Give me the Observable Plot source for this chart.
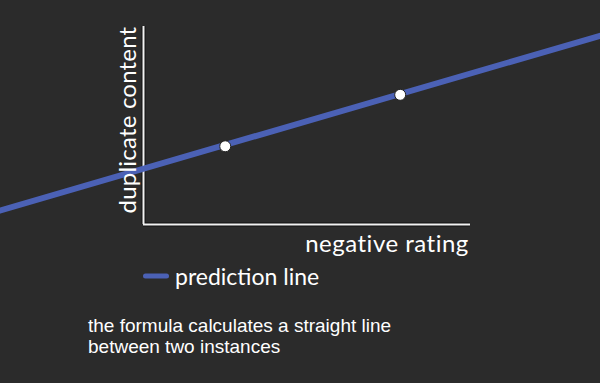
<!DOCTYPE html>
<html><head><meta charset="utf-8">
<script src="https://cdn.jsdelivr.net/npm/d3@7"></script>
<script src="https://cdn.jsdelivr.net/npm/@observablehq/plot@0.6"></script>
<style>
html,body{margin:0;padding:0;background:#2b2b2b;}
#wrap{position:relative;width:600px;height:383px;overflow:hidden;background:#2b2b2b;}
#wrap svg{position:absolute;left:0;top:0;}
.hand{position:absolute;color:#fff;font-family:Lato,"Open Sans",sans-serif;font-size:24px;white-space:nowrap;line-height:1;letter-spacing:0.5px;}
#ylab{left:127px;top:120px;transform:translate(-50%,-50%) rotate(-90deg);letter-spacing:0.2px;}
#xlab{left:387px;top:243px;transform:translate(-50%,-50%);}
#leg{left:143px;top:276px;transform:translateY(-50%);display:flex;align-items:center;font-size:23px;letter-spacing:0;}
#leg .sw{display:inline-block;width:26px;height:5px;border-radius:3px;background:#4b61b5;margin-right:6px;}
#cap{position:absolute;left:88px;top:315px;color:#fff;font-family:"Liberation Sans",Arial,sans-serif;font-size:19px;line-height:21px;}
</style></head>
<body>
<div id="wrap"></div>
<script>
// data
const pointRating = [2.5, 7.85];
const pointDuplicate = [3.95, 6.55];
const lineRating = [-4.4, 14.0];
const lineDuplicate = [0.7, 9.55];
const xLabel = "negative rating";
const yLabel = "duplicate content";
const legendLabel = "prediction line";
const captionLines = ["the formula calculates a straight line", "between two instances"];
const blue = "#4b61b5";

const pts = pointRating.map((x, i) => ({x, y: pointDuplicate[i]}));
const ln = lineRating.map((x, i) => ({x, y: lineDuplicate[i]}));

const chart = Plot.plot({
  width: 600, height: 383,
  marginLeft: 143, marginRight: 130, marginTop: 26, marginBottom: 159,
  x: {domain: [0, 10], axis: null},
  y: {domain: [0, 10], axis: null},
  style: {background: "transparent", overflow: "visible"},
  marks: [
    Plot.ruleX([0], {stroke: "#111", strokeWidth: 4}),
    Plot.ruleY([0], {stroke: "#111", strokeWidth: 4}),
    Plot.ruleX([0], {stroke: "#f2f2f2", strokeWidth: 2}),
    Plot.ruleY([0], {stroke: "#f2f2f2", strokeWidth: 2}),
    Plot.line(ln, {x: "x", y: "y", stroke: blue, strokeWidth: 6}),
    Plot.dot(pts, {x: "x", y: "y", r: 5.5, fill: "#fff", stroke: "#222", strokeWidth: 1})
  ]
});
const wrap = document.getElementById("wrap");
wrap.appendChild(chart);

function addDiv(id, cls, html) {
  const d = document.createElement("div");
  d.id = id; if (cls) d.className = cls; d.innerHTML = html;
  wrap.appendChild(d);
}
addDiv("ylab", "hand", yLabel);
addDiv("xlab", "hand", xLabel);
addDiv("leg", "hand", `<span class="sw"></span><span>${legendLabel}</span>`);
addDiv("cap", "", captionLines.join("<br>"));
</script>
</body></html>
